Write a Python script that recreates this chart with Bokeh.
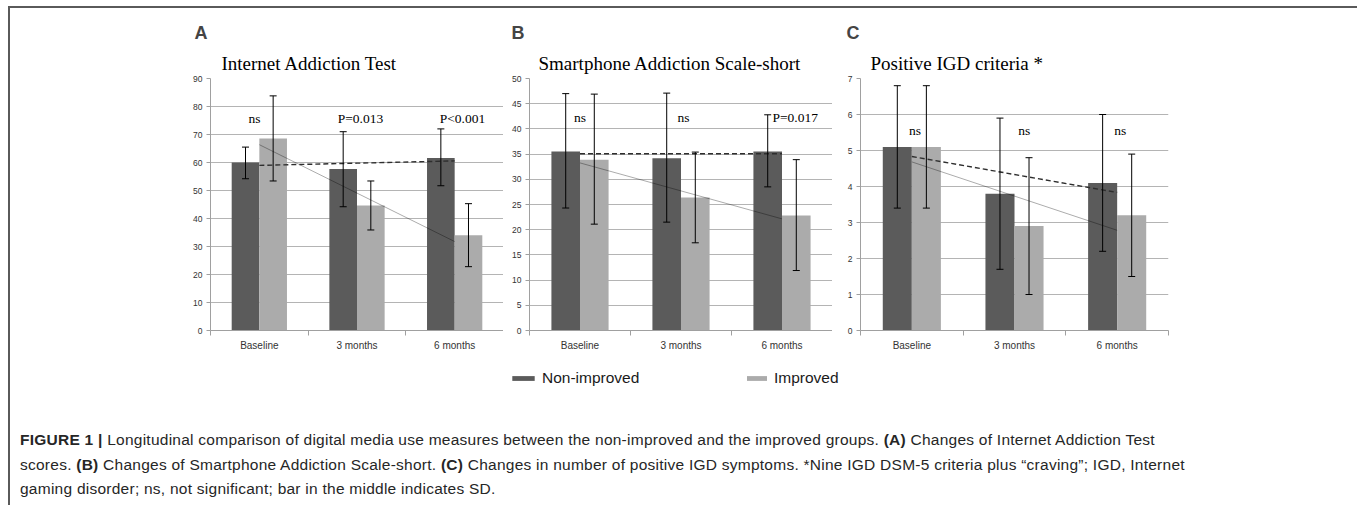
import numpy as np
from bokeh.plotting import figure
from bokeh.models import (Range1d, FixedTicker, Title, ColumnDataSource, Whisker,
                          TeeHead, Legend, LegendItem, Div)
from bokeh.layouts import row, column
from bokeh.core.properties import value
from bokeh.embed import file_html
from bokeh.resources import INLINE

# ---------------- data ----------------
categories = ["Baseline", "3 months", "6 months"]
series_names = ["Non-improved", "Improved"]

iat_non = [60.0, 57.7, 61.6]
iat_non_lo = [54.2, 44.2, 51.7]
iat_non_hi = [65.5, 71.0, 72.0]
iat_imp = [68.6, 44.6, 34.0]
iat_imp_lo = [53.4, 35.9, 22.8]
iat_imp_hi = [83.8, 53.4, 45.3]
iat_sig = ["ns", "P=0.013", "P<0.001"]

sas_non = [35.5, 34.2, 35.5]
sas_non_lo = [24.3, 21.5, 28.5]
sas_non_hi = [47.0, 47.1, 42.8]
sas_imp = [33.9, 26.4, 22.8]
sas_imp_lo = [21.1, 17.4, 11.9]
sas_imp_hi = [46.9, 35.4, 33.9]
sas_sig = ["ns", "ns", "P=0.017"]

igd_non = [5.1, 3.8, 4.1]
igd_non_lo = [3.4, 1.7, 2.2]
igd_non_hi = [6.8, 5.9, 6.0]
igd_imp = [5.1, 2.9, 3.2]
igd_imp_lo = [3.4, 1.0, 1.5]
igd_imp_hi = [6.8, 4.8, 4.9]
igd_sig = ["ns", "ns", "ns"]

panel_letters = ["A", "B", "C"]
panel_titles = ["Internet Addiction Test", "Smartphone Addiction Scale-short", "Positive IGD criteria *"]
y_max = [90, 50, 7]
y_step = [10, 5, 1]

DARK = "#5b5b5b"
LIGHT = "#ababab"
AXIS = "#a0a0a0"
GRID = "#b4b4b4"

# layout settings (pixels) per panel
layout_cfg = [
    dict(fw=293, bl=200, br=0, letter_off=-16, title_off=11, sig_dx=[-0.05, 0.035, 0.08], sig_frac=0.842),
    dict(fw=303, bl=26, br=0, letter_off=-18, title_off=9, sig_dx=[0.0, 0.025, 0.13], sig_frac=0.846),
    dict(fw=308, bl=28, br=185, letter_off=-14, title_off=10, sig_dx=[0.03, 0.095, 0.03], sig_frac=0.794),
]

BAR_W = 0.283
W = 1343


def make_panel(i, non, non_lo, non_hi, imp, imp_lo, imp_hi, sig):
    cfg = layout_cfg[i]
    ymax = y_max[i]
    p = figure(frame_width=cfg["fw"], frame_height=252,
               min_border_left=cfg["bl"], min_border_right=cfg["br"],
               min_border_top=70, min_border_bottom=25,
               x_range=Range1d(0, len(categories)), y_range=Range1d(0, ymax),
               toolbar_location=None, tools="", output_backend="svg")
    p.outline_line_color = None
    p.background_fill_color = "white"
    p.border_fill_color = "white"

    # letter title (outermost) and panel title
    p.title.text = panel_letters[i]
    p.title.text_font = "Liberation Sans"
    p.title.text_font_style = "bold"
    p.title.text_font_size = "18px"
    p.title.align = "left"
    p.title.offset = cfg["letter_off"]
    p.title.standoff = 5
    p.add_layout(Title(text=panel_titles[i], align="left", offset=cfg["title_off"],
                       text_font="Liberation Serif", text_font_style="normal",
                       text_font_size="19px", text_color="black"), "above")

    centers = np.arange(len(categories)) + 0.5

    # axes
    p.xaxis.ticker = FixedTicker(ticks=list(centers), minor_ticks=list(range(len(categories) + 1)))
    p.xaxis.major_label_overrides = {float(c): categories[k] for k, c in enumerate(centers)}
    p.xaxis.axis_line_color = AXIS
    p.xaxis.major_tick_line_color = None
    p.xaxis.minor_tick_line_color = AXIS
    p.xaxis.minor_tick_in = 0
    p.xaxis.minor_tick_out = 5
    p.xaxis.major_label_standoff = 3
    p.xaxis.major_label_text_font = "Liberation Sans"
    p.xaxis.major_label_text_font_size = "10px"
    p.xaxis.major_label_text_color = "#333333"

    p.yaxis.ticker = FixedTicker(ticks=list(np.arange(0, ymax + 0.001, y_step[i])))
    p.yaxis.axis_line_color = AXIS
    p.yaxis.major_tick_line_color = AXIS
    p.yaxis.major_tick_in = 0
    p.yaxis.major_tick_out = 4
    p.yaxis.minor_tick_line_color = None
    p.yaxis.major_label_standoff = 4
    p.yaxis.major_label_text_font = "Liberation Sans"
    p.yaxis.major_label_text_font_size = "8.5px"
    p.yaxis.major_label_text_color = "#333333"

    p.xgrid.visible = False
    p.ygrid.grid_line_color = GRID
    p.ygrid.grid_line_width = 1

    # bars
    x_non = centers - BAR_W / 2
    x_imp = centers + BAR_W / 2
    p.vbar(x=x_non, width=BAR_W, top=non, bottom=0, fill_color=DARK, line_color=None)
    p.vbar(x=x_imp, width=BAR_W, top=imp, bottom=0, fill_color=LIGHT, line_color=None)

    # linear trend lines (least squares over the three time points)
    fit_non = np.polyfit(centers, non, 1)
    fit_imp = np.polyfit(centers, imp, 1)
    p.line(centers, np.polyval(fit_imp, centers), line_color="black", line_alpha=0.33, line_width=1)
    p.line(centers, np.polyval(fit_non, centers), line_color="#2e2e2e", line_width=1.4, line_dash="5 3")

    # SD error bars
    for xs, lo, hi in ((x_non, non_lo, non_hi), (x_imp, imp_lo, imp_hi)):
        src = ColumnDataSource(dict(x=xs, lo=lo, hi=hi))
        w = Whisker(source=src, base="x", lower="lo", upper="hi", level="overlay",
                    line_color="black", line_width=1,
                    upper_head=TeeHead(size=7, line_color="black", line_width=1),
                    lower_head=TeeHead(size=7, line_color="black", line_width=1))
        p.add_layout(w)

    # significance labels
    p.text(x=centers + np.array(cfg["sig_dx"]), y=[ymax * cfg["sig_frac"]] * len(categories), text=sig,
           text_font=value("Liberation Serif"), text_font_size="13.5px",
           text_align="center", text_baseline="middle", text_color="black")
    return p


pA = make_panel(0, iat_non, iat_non_lo, iat_non_hi, iat_imp, iat_imp_lo, iat_imp_hi, iat_sig)
pB = make_panel(1, sas_non, sas_non_lo, sas_non_hi, sas_imp, sas_imp_lo, sas_imp_hi, sas_sig)
pC = make_panel(2, igd_non, igd_non_lo, igd_non_hi, igd_imp, igd_imp_lo, igd_imp_hi, igd_sig)

# ---------------- legend strip ----------------
LH = 60
pl = figure(width=W, height=LH, x_range=Range1d(0, W), y_range=Range1d(0, LH),
            min_border=0, toolbar_location=None, tools="", output_backend="svg",
            x_axis_type=None, y_axis_type=None)
pl.outline_line_color = None
pl.xgrid.visible = False
pl.ygrid.visible = False
r_non = pl.vbar(x=[0], width=1, top=[0], fill_color=DARK, line_color=None, visible=False)
r_imp = pl.vbar(x=[0], width=1, top=[0], fill_color=LIGHT, line_color=None, visible=False)
for rend, name, loc, gw in ((r_non, series_names[0], (499, 28), 28), (r_imp, series_names[1], (734, 28), 25)):
    leg = Legend(items=[LegendItem(label=name, renderers=[rend])], location=loc,
                 glyph_width=gw, glyph_height=6, label_standoff=5, padding=0, margin=0,
                 border_line_color=None, background_fill_alpha=0,
                 label_text_font="Liberation Sans", label_text_font_size="15.5px",
                 label_text_color="#1a1a1a")
    pl.add_layout(leg)

# ---------------- caption ----------------
caption_html = (
    '<div style="padding:8px 0 0 5px; font-family:\'Liberation Sans\'; font-size:15.5px; '
    'letter-spacing:0.25px; line-height:24.5px; color:#262626; white-space:nowrap;">'
    '<b>FIGURE 1 |</b> Longitudinal comparison of digital media use measures between the non-improved and the '
    'improved groups. <b>(A)</b> Changes of Internet Addiction Test<br>'
    'scores. <b>(B)</b> Changes of Smartphone Addiction Scale-short. <b>(C)</b> Changes in number of positive IGD '
    'symptoms. *Nine IGD DSM-5 criteria plus \u201ccraving\u201d; IGD, Internet<br>'
    'gaming disorder; ns, not significant; bar in the middle indicates SD.'
    '</div>'
)
cap = Div(text=caption_html, width=W, height=82, styles={"overflow": "hidden"})

layout = column(row(pA, pB, pC), pl, cap,
                styles={"margin": "6px 0 0 8px",
                        "border-top": "2px solid #5a5a5a", "border-left": "2px solid #5a5a5a",
                        "border-right": "2px solid #5a5a5a", "background-color": "white"})

open("out.html", "w").write(file_html(layout, INLINE))
